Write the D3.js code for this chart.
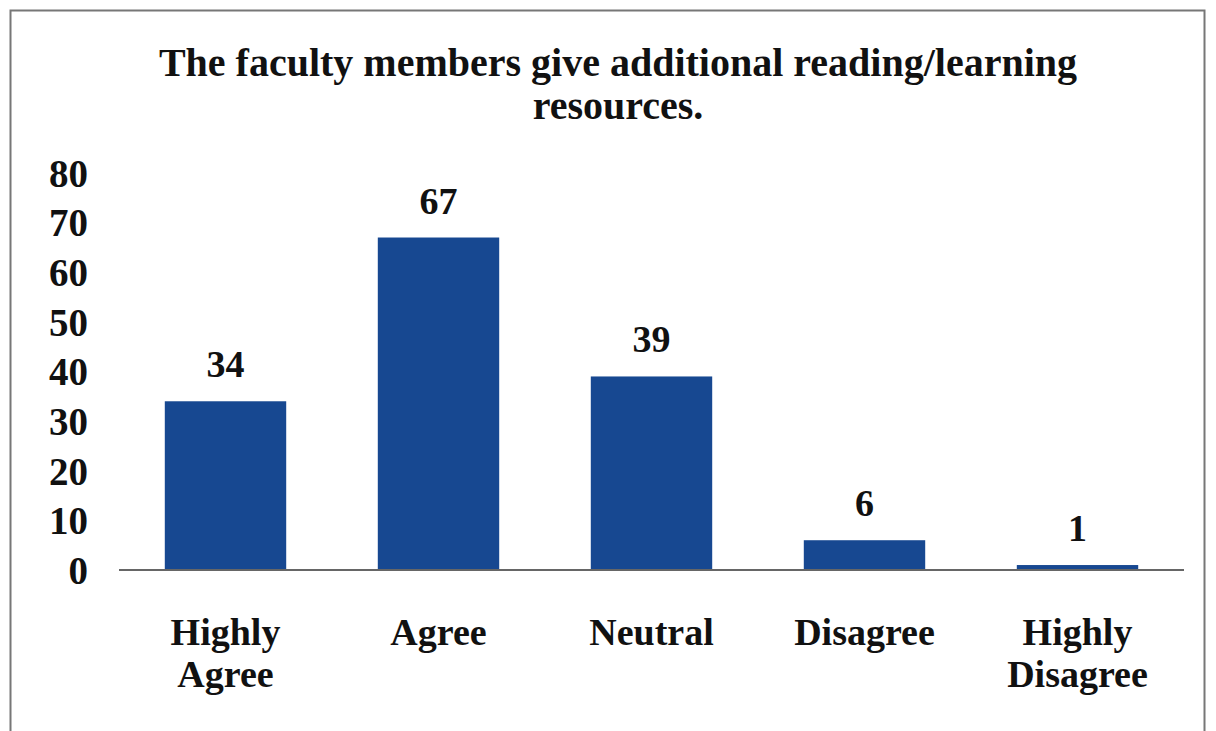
<!DOCTYPE html>
<html><head><meta charset="utf-8">
<script src="https://cdn.jsdelivr.net/npm/d3@7"></script>
<style>body{margin:0;background:#fff}svg{display:block}</style>
</head><body>
<svg id="c" width="1216" height="731"></svg>
<script>
const categories = [["Highly","Agree"],["Agree"],["Neutral"],["Disagree"],["Highly","Disagree"]];
const values = [34, 67, 39, 6, 1];
const yTicks = [0,10,20,30,40,50,60,70,80];
const titleLines = ["The faculty members give additional reading/learning","resources."];

const svg = d3.select("#c");
const font = "'Liberation Serif','Times New Roman',serif";
svg.append("rect").attr("x",10.5).attr("y",10.5).attr("width",1194).attr("height",740)
  .attr("fill","#fff").attr("stroke","#777").attr("stroke-width",2);

const keys = categories.map(d=>d.join(" "));
const x = d3.scaleBand().domain(keys).range([119,1184]).paddingInner(0.43).paddingOuter(0.215);
const y = d3.scaleLinear().domain([0,80]).range([570,173]);

svg.append("g").selectAll("text").data(titleLines).join("text")
  .attr("x",618).attr("y",(d,i)=>76+i*43).attr("text-anchor","middle")
  .attr("font-family",font).attr("font-weight","bold").attr("font-size",40).attr("fill","#111").text(d=>d);

const yAxis = d3.axisLeft(y).tickValues(yTicks).tickSize(0).tickPadding(0);
const gy = svg.append("g").attr("transform","translate(88,0)").call(yAxis);
gy.select(".domain").remove();
gy.selectAll("text").attr("font-family",font).attr("font-weight","bold").attr("font-size",39).attr("fill","#111").attr("dy","0.34em");

svg.append("g").selectAll("rect").data(values).join("rect")
  .attr("x",(d,i)=>x(keys[i])).attr("width",x.bandwidth())
  .attr("y",d=>y(d)).attr("height",d=>y(0)-y(d)).attr("fill","#174891");

svg.append("line").attr("x1",119).attr("x2",1184).attr("y1",y(0)).attr("y2",y(0)).attr("stroke","#666").attr("stroke-width",2);

svg.append("g").selectAll("text").data(values).join("text")
  .attr("x",(d,i)=>x(keys[i])+x.bandwidth()/2).attr("y",d=>y(d)-24).attr("text-anchor","middle")
  .attr("font-family",font).attr("font-weight","bold").attr("font-size",38).attr("fill","#111").text(d=>d);

const xg = svg.append("g");
categories.forEach((lines,i)=>{
  const t = xg.append("text").attr("x",x(keys[i])+x.bandwidth()/2).attr("y",645).attr("text-anchor","middle")
    .attr("font-family",font).attr("font-weight","bold").attr("font-size",38).attr("fill","#111");
  lines.forEach((l,j)=>t.append("tspan").attr("x",x(keys[i])+x.bandwidth()/2).attr("dy",j?42:0).text(l));
});
</script>
</body></html>
